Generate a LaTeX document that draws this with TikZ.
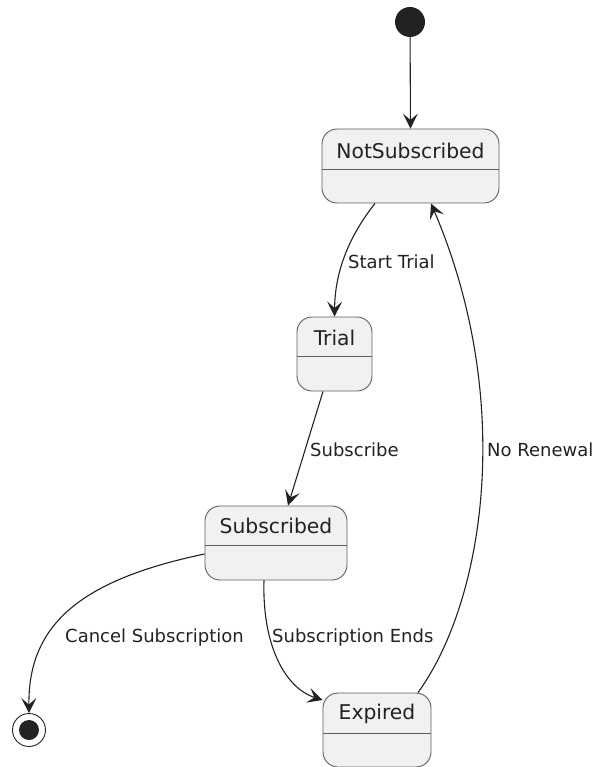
\documentclass[tikz,border=0pt]{standalone}
\usepackage{fontspec}
\setmainfont{DejaVu Sans}
\usetikzlibrary{arrows.meta}
\definecolor{statefill}{HTML}{F1F1F1}
\definecolor{stateline}{HTML}{5E5E5E}
\definecolor{ink}{HTML}{222222}
\tikzset{
  statebox/.style={draw=stateline, fill=statefill, line width=0.9pt,
    rounded corners=15pt, inner sep=0pt},
  divider/.style={draw=stateline, line width=0.9pt},
  title/.style={font=\fontsize{20.3}{23}\selectfont, text=ink, inner sep=0pt},
  lbl/.style={font=\fontsize{18}{21}\selectfont, text=ink, inner sep=0pt, anchor=west},
  trans/.style={draw=ink, line width=1.1pt,
    -{Stealth[length=15pt, width=15pt, inset=6.5pt]}},
}
\begin{document}
\begin{tikzpicture}[x=1pt, y=-1pt]
\useasboundingbox (0,0) rectangle (598,767);

% initial and final pseudo-states
\node[circle, fill=ink, minimum size=30pt, inner sep=0pt] (init) at (410,22) {};
\node[circle, draw=ink, line width=0.9pt, fill=white, minimum size=33pt, inner sep=0pt] (final) at (29,730) {};
\fill[ink] (final.center) circle (10pt);

% states: box, divider, title
\node[statebox, minimum width=177pt, minimum height=74pt] (ns) at (410.5,166) {};
\draw[divider] (322,169) -- (499,169);
\node[title] (nsT) at (410.5,151) {NotSubscribed};

\node[statebox, minimum width=75pt, minimum height=74pt] (trial) at (334.5,354) {};
\draw[divider] (297,356) -- (372,356);
\node[title] (trialT) at (334.5,338) {Trial};

\node[statebox, minimum width=142pt, minimum height=74pt] (sub) at (276,543) {};
\draw[divider] (205,545) -- (347,545);
\node[title] (subT) at (276,526) {Subscribed};

\node[statebox, minimum width=108pt, minimum height=74pt] (exp) at (377,730) {};
\draw[divider] (323,733) -- (431,733);
\node[title] (expT) at (377,714) {Expired};

% transitions
\draw[trans] (init) -- (ns.north);
\draw[trans] ([xshift=-35.5pt]ns.south) .. controls (350,235) and (335,270) .. (trial.north);
\draw[trans] ([xshift=-11.5pt]trial.south) -- ([xshift=12pt]sub.north);
\draw[trans] ([yshift=-11pt]sub.west) .. controls (80,580) and (28,625) .. (final.north);
\draw[trans] ([xshift=-12pt]sub.south) .. controls (262,645) and (285,688) .. ([yshift=30pt]exp.west);
\draw[trans] ([xshift=41pt]exp.north) .. controls (485,600) and (515,400) .. ([xshift=20.5pt]ns.south);

% transition labels
\node[lbl] (l1) at (348,262) {Start Trial};
\node[lbl] (l2) at (310,450) {Subscribe};
\node[lbl] (l3) at (65,638) {Cancel Subscription};
\node[lbl] (l4) at (272,638) {Subscription Ends};
\node[lbl] (l5) at (487,450) {No Renewal};
\end{tikzpicture}
\end{document}
